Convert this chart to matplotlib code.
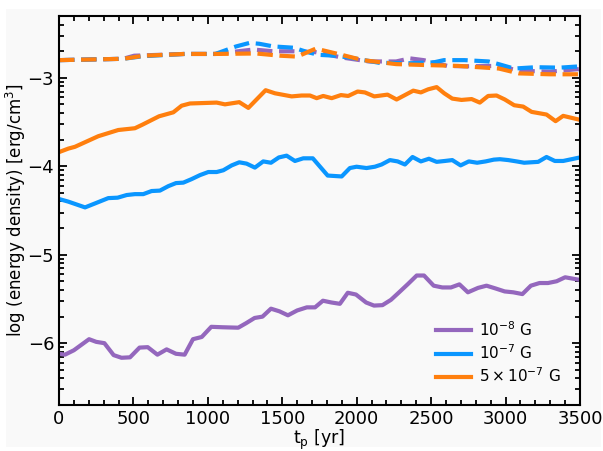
import numpy as np
import matplotlib
matplotlib.use("Agg")
import matplotlib.pyplot as plt
from matplotlib.ticker import LogLocator, FuncFormatter, MultipleLocator, NullFormatter
from matplotlib.patches import Rectangle

# ---------------- data (log10 energy density) ----------------
labels = [r"10$^{-8}$ G", r"10$^{-7}$ G", r"$5\times10^{-7}$ G"]
colors = ["#9467bd", "#0a96ff", "#ff7f0e"]

t_purple = [0, 40, 100, 202, 250, 305, 367, 420, 477, 541, 596, 661, 723, 786, 844, 900, 959,
            1023, 1097, 1204, 1256, 1314, 1367, 1424, 1481, 1538, 1600, 1665, 1720, 1773, 1830,
            1887, 1940, 1995, 2063, 2116, 2173, 2230, 2288, 2345, 2403, 2452, 2517, 2575, 2633,
            2690, 2747, 2815, 2872, 2930, 2994, 3052, 3113, 3170, 3228, 3285, 3343, 3400, 3500]
v_purple = [-6.12, -6.13, -6.08, -5.955, -5.985, -6.0, -6.135, -6.165, -6.16, -6.05, -6.045,
            -6.13, -6.07, -6.12, -6.13, -5.955, -5.93, -5.815, -5.82, -5.825, -5.775, -5.715,
            -5.70, -5.61, -5.64, -5.685, -5.63, -5.595, -5.595, -5.52, -5.54, -5.555, -5.43,
            -5.45, -5.54, -5.575, -5.57, -5.51, -5.42, -5.33, -5.235, -5.235, -5.35, -5.37,
            -5.37, -5.335, -5.425, -5.375, -5.35, -5.38, -5.415, -5.425, -5.445, -5.35, -5.32,
            -5.32, -5.30, -5.255, -5.285]

t_blue = [0, 63, 175, 242, 331, 394, 455, 510, 566, 622, 678, 734, 786, 835, 891, 947, 1003,
          1059, 1104, 1160, 1211, 1260, 1316, 1372, 1424, 1477, 1529, 1585, 1641, 1705, 1805,
          1899, 1954, 1999, 2066, 2122, 2167, 2223, 2275, 2324, 2375, 2431, 2485, 2537, 2592,
          2642, 2698, 2753, 2809, 2866, 2921, 2962, 3018, 3074, 3125, 3219, 3275, 3331, 3387, 3500]
v_blue = [-4.37, -4.40, -4.465, -4.42, -4.36, -4.355, -4.325, -4.315, -4.315, -4.28, -4.275,
          -4.225, -4.19, -4.185, -4.145, -4.10, -4.065, -4.065, -4.045, -3.99, -3.955, -3.97,
          -4.015, -3.945, -3.96, -3.90, -3.88, -3.94, -3.91, -3.91, -4.105, -4.115, -4.02,
          -4.005, -4.02, -4.005, -3.98, -3.93, -3.945, -3.98, -3.895, -3.945, -3.915, -3.95,
          -3.94, -3.93, -3.99, -3.945, -3.96, -3.945, -3.925, -3.92, -3.93, -3.945, -3.96,
          -3.95, -3.895, -3.94, -3.94, -3.90]

t_orange = [0, 63, 107, 264, 398, 510, 560, 672, 768, 824, 880, 1059, 1115, 1211, 1272, 1388,
            1451, 1563, 1630, 1686, 1731, 1775, 1832, 1894, 1943, 2006, 2055, 2118, 2207, 2268,
            2324, 2380, 2431, 2480, 2537, 2588, 2642, 2704, 2772, 2827, 2883, 2939, 2995, 3058,
            3118, 3175, 3275, 3336, 3387, 3500]
v_orange = [-3.84, -3.80, -3.78, -3.66, -3.59, -3.57, -3.53, -3.435, -3.39, -3.315, -3.29,
            -3.28, -3.30, -3.275, -3.34, -3.14, -3.175, -3.21, -3.20, -3.20, -3.23, -3.205,
            -3.23, -3.195, -3.205, -3.155, -3.165, -3.21, -3.19, -3.245, -3.195, -3.145,
            -3.165, -3.13, -3.105, -3.175, -3.235, -3.25, -3.24, -3.28, -3.205, -3.20, -3.245,
            -3.31, -3.325, -3.385, -3.415, -3.49, -3.43, -3.475]

# dashed curves
td_purple = [0, 430, 505, 844, 1050, 1305, 1440, 1578, 1725, 1899, 2082, 2265, 2357, 2450,
             2609, 2724, 2955, 3090, 3298, 3500]
vd_purple = [-2.80, -2.785, -2.75, -2.73, -2.73, -2.68, -2.70, -2.70, -2.71, -2.77, -2.815,
             -2.815, -2.78, -2.80, -2.865, -2.87, -2.865, -2.92, -2.93, -2.90]

td_blue = [0, 430, 569, 844, 1050, 1190, 1280, 1345, 1440, 1578, 1670, 1745, 1854, 1968, 2150,
           2357, 2518, 2586, 2724, 2885, 2953, 3056, 3204, 3365, 3500]
vd_blue = [-2.80, -2.785, -2.755, -2.73, -2.73, -2.645, -2.605, -2.615, -2.645, -2.66, -2.71,
           -2.74, -2.75, -2.775, -2.83, -2.835, -2.825, -2.80, -2.80, -2.815, -2.845, -2.895,
           -2.88, -2.885, -2.87]

td_orange = [0, 430, 569, 844, 1050, 1325, 1485, 1600, 1725, 1899, 2040, 2265, 2450, 2680,
             2955, 3090, 3298, 3500]
vd_orange = [-2.80, -2.785, -2.75, -2.73, -2.73, -2.725, -2.75, -2.76, -2.67, -2.74, -2.80,
             -2.845, -2.855, -2.865, -2.895, -2.95, -2.96, -2.96]

solid = [(t_purple, v_purple), (t_blue, v_blue), (t_orange, v_orange)]
dashed = [(td_purple, vd_purple), (td_blue, vd_blue), (td_orange, vd_orange)]

# ---------------- figure ----------------
fig = plt.figure(figsize=(6.03, 4.51), dpi=100, facecolor="white")
bg = "#f9f9f9"
fig.patches.append(Rectangle((6 / 603, 4 / 451), 595 / 603, 438 / 451,
                             transform=fig.transFigure, facecolor=bg, edgecolor="none",
                             zorder=-10))
ax = fig.add_axes([59 / 603, 1 - 405 / 451, 521 / 603, 389 / 451])
ax.set_facecolor(bg)

for (t, v), c in zip(dashed, colors):
    ax.plot(t, 10 ** np.array(v), color=c, lw=3, ls="--")
handles = []
for (t, v), c, lab in zip(solid, colors, labels):
    h, = ax.plot(t, 10 ** np.array(v), color=c, lw=3, label=lab)
    handles.append(h)

ax.set_yscale("log")
ax.set_ylim(2e-7, 5e-3)
ax.set_xlim(0, 3500)

ax.xaxis.set_major_locator(MultipleLocator(500))
ax.xaxis.set_minor_locator(MultipleLocator(100))
ax.yaxis.set_major_locator(LogLocator(base=10, numticks=20))
ax.yaxis.set_minor_locator(LogLocator(base=10, subs=np.arange(2, 10), numticks=20))
ax.yaxis.set_minor_formatter(NullFormatter())
ax.yaxis.set_major_formatter(FuncFormatter(
    lambda y, pos: "\u2212%d" % abs(int(round(np.log10(y)))) if y < 1 else "%d" % int(round(np.log10(y)))))

ax.tick_params(which="both", direction="in", top=True, right=True, width=1.3, labelsize=13)
ax.tick_params(which="major", length=6)
ax.tick_params(which="minor", length=3.5)
for s in ax.spines.values():
    s.set_linewidth(1.5)

ax.set_xlabel(r"t$_\mathrm{p}$ [yr]", fontsize=12.5, labelpad=0)
ax.set_ylabel(r"log (energy density) [erg/cm$^3$]", fontsize=12, labelpad=0)

ax.legend(handles=handles, loc="lower right", frameon=False, fontsize=11,
          handlelength=2.3, handletextpad=0.5, labelspacing=0.3, borderaxespad=0.9)

fig.savefig("out.png", dpi=100, facecolor=fig.get_facecolor())
